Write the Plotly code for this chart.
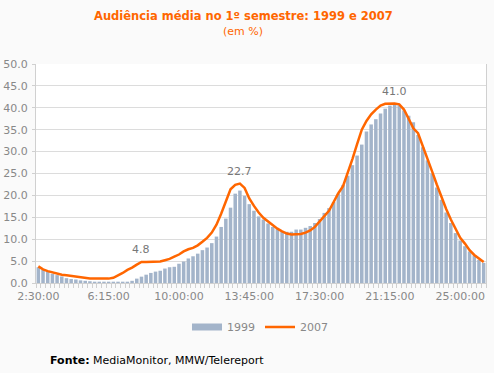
import plotly.graph_objects as go

# categories: quarter-hour slots from 2:30:00 to 26:15:00
categories = []
for k in range(96):
    total = 150 + 15 * k
    categories.append(f"{total // 60}:{total % 60:02d}:00")

tick_labels = ["2:30:00", "6:15:00", "10:00:00", "13:45:00", "17:30:00", "21:15:00", "25:00:00"]

values_1999 = [
    3.6, 3.0, 2.6, 2.1, 1.8, 1.5, 1.1, 0.9, 0.8, 0.6,
    0.5, 0.4, 0.3, 0.3, 0.3, 0.3, 0.3, 0.3, 0.3, 0.3,
    0.5, 1.0, 1.45, 1.9, 2.3, 2.6, 2.8, 3.3, 3.6, 3.7,
    4.4, 4.9, 5.6, 6.1, 6.7, 7.5, 8.1, 9.1, 10.6, 12.8,
    14.7, 17.2, 20.4, 21.1, 19.9, 18.0, 16.5, 15.2, 14.5, 13.6,
    12.8, 12.3, 11.8, 11.7, 11.7, 12.2, 12.2, 12.6, 13.0, 13.7,
    14.6, 16.0, 17.1, 18.5, 20.4, 22.4, 24.5, 26.9, 29.1, 31.6,
    34.6, 36.2, 37.4, 38.7, 39.8, 40.5, 40.7, 40.6, 39.4, 38.2,
    36.7, 33.8, 31.0, 28.0, 25.0, 21.8, 19.0, 16.1, 13.7, 11.4,
    9.7, 8.4, 7.2, 6.3, 5.3, 4.6,
]

values_2007 = [
    3.8, 3.1, 2.7, 2.4, 2.2, 1.9, 1.75, 1.6, 1.4, 1.25,
    1.1, 1.05, 1.0, 1.0, 1.0, 1.0, 1.2, 1.7, 2.3, 3.0,
    3.5, 4.2, 4.8, 4.8, 4.8, 4.8, 4.9, 5.2, 5.5, 6.0,
    6.5, 7.2, 7.7, 8.0, 8.6, 9.4, 10.3, 11.5, 13.3, 15.8,
    18.6, 21.4, 22.4, 22.7, 21.7, 19.3, 17.6, 16.1, 14.9, 14.0,
    13.1, 12.4, 11.8, 11.3, 11.1, 11.1, 11.2, 11.5, 12.0, 12.8,
    14.0, 15.4, 16.5, 18.5, 20.5, 22.1, 25.0, 28.3, 31.7, 35.0,
    37.0, 38.5, 39.6, 40.5, 40.9, 40.9, 41.0, 40.8, 39.6, 37.5,
    35.3, 34.2, 31.4, 28.6, 25.5, 22.5, 19.5, 16.9, 14.5, 12.3,
    10.3, 9.0, 7.5, 6.4, 5.5, 4.8,
]

labelled_points = [(22, "4.8"), (43, "22.7"), (76, "41.0")]

FONT = "DejaVu Sans, Verdana, sans-serif"
ORANGE = "#ff6600"
BAR = "#a3b4ca"
GREY = "#888888"

# plot-area geometry (pixels) used to place paper-referenced texts
L, R, T, B = 36, 486, 64, 283

def px_x(x):
    return (x - L) / (R - L)

def px_y(y):
    return (B - y) / (B - T)

fig = go.Figure()
fig.add_trace(go.Bar(x=categories, y=values_1999, name="1999", showlegend=False,
                     marker=dict(color=BAR, line=dict(width=0))))
# legend-only entry so the 1999 swatch is a wide flat block, as in the original
fig.add_trace(go.Scatter(x=[None], y=[None], name="1999", mode="lines",
                         line=dict(color=BAR, width=7)))
fig.add_trace(go.Scatter(x=categories, y=values_2007, name="2007", mode="lines",
                         line=dict(color=ORANGE, width=2.5)))

for idx, txt in labelled_points:
    fig.add_annotation(x=categories[idx], y=values_2007[idx], text=txt, showarrow=False,
                       yshift=12, xanchor="center", yanchor="middle",
                       font=dict(family=FONT, size=11, color="#777777"))

fig.add_annotation(xref="paper", yref="paper", x=px_x(243), y=px_y(16),
                   xanchor="center", yanchor="middle",
                   text="<b>Audiência média no 1º semestre: 1999 e 2007</b>", showarrow=False,
                   font=dict(family=FONT, size=11.5, color=ORANGE))
fig.add_annotation(xref="paper", yref="paper", x=px_x(243), y=px_y(31),
                   xanchor="center", yanchor="middle",
                   text="(em %)", showarrow=False,
                   font=dict(family=FONT, size=11, color=ORANGE))
fig.add_annotation(xref="paper", yref="paper", x=px_x(48), y=px_y(360),
                   xanchor="left", yanchor="middle",
                   text="<b>Fonte:</b> MediaMonitor, MMW/Telereport", showarrow=False,
                   font=dict(family=FONT, size=11, color="#000000"))

ticktext = [c if c in tick_labels else "" for c in categories]

fig.update_layout(
    width=494, height=373,
    margin=dict(l=L, r=494 - R, t=T, b=373 - B, autoexpand=False),
    paper_bgcolor="#fafafa", plot_bgcolor="#ffffff",
    bargap=0.25,
    hovermode=False,
    showlegend=True,
    legend=dict(orientation="h", x=px_x(260), xanchor="center", y=px_y(327), yanchor="middle",
                font=dict(family=FONT, size=11, color=GREY), bgcolor="rgba(0,0,0,0)",
                itemwidth=30, tracegroupgap=0),
    font=dict(family=FONT, size=11, color=GREY),
    xaxis=dict(type="category", tickvals=categories, ticktext=ticktext, tickson="boundaries",
               ticks="outside", ticklen=4, tickcolor="#d0d0d0", tickangle=0, automargin=False,
               showgrid=False, showline=True, linecolor="#d0d0d0", ticklabelstandoff=3,
               tickfont=dict(family=FONT, size=11, color=GREY), range=[-0.5, 95.5]),
    yaxis=dict(range=[0, 50], dtick=5, tickformat=".1f", showgrid=True, gridcolor="#dcdcdc",
               ticks="outside", ticklen=3, tickcolor="#d0d0d0", showline=True, linecolor="#d0d0d0",
               automargin=False, zeroline=False, ticklabelstandoff=2,
               tickfont=dict(family=FONT, size=11, color=GREY), mirror=True),
)

fig.write_html("out.html", config={"displayModeBar": False, "staticPlot": True},
               post_script="document.body.style.margin='0';document.body.style.background='#fafafa';")
